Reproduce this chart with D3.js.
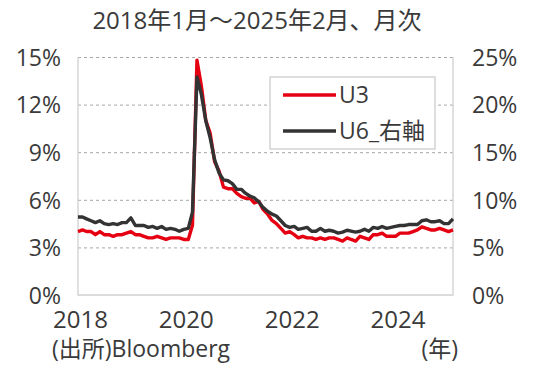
<!DOCTYPE html>
<html>
<head>
<meta charset="utf-8">
<script src="https://cdn.jsdelivr.net/npm/d3@7"></script>
<style>
	body { margin: 0; background: #fff; }
	svg text { font-family: "Open Sans", "Noto Sans CJK JP", sans-serif; fill: #3a3a3a; }
	.grid line { stroke: #a6a6a6; stroke-dasharray: 3, 3; stroke-width: 1; }
	.frame { stroke: #d0d0d0; stroke-width: 1.3; fill: none; }
</style>
</head>
<body>
<div class="box"></div>
<script>
var startMonth = '2018-01';

// U3 (%), monthly from Jan 2018
var u3 = [
	4.0, 4.1, 4.0, 4.0, 3.8, 4.0, 3.8, 3.8, 3.7, 3.8, 3.8, 3.9,
	4.0, 3.8, 3.8, 3.7, 3.6, 3.6, 3.7, 3.6, 3.5, 3.6, 3.6, 3.6,
	3.5, 3.5, 4.4, 14.8, 13.2, 11.0, 10.2, 8.4, 7.8, 6.8, 6.7, 6.7,
	6.4, 6.2, 6.1, 6.1, 5.8, 5.9, 5.4, 5.1, 4.7, 4.5, 4.2, 3.9,
	4.0, 3.8, 3.6, 3.7, 3.6, 3.6, 3.5, 3.6, 3.5, 3.6, 3.6, 3.5,
	3.4, 3.6, 3.5, 3.4, 3.7, 3.6, 3.5, 3.8, 3.8, 3.9, 3.7, 3.7,
	3.7, 3.9, 3.9, 3.9, 4.0, 4.1, 4.3, 4.2, 4.1, 4.1, 4.2, 4.1,
	4.0, 4.1
];

// U6 (%), right axis
var u6 = [
	8.2, 8.2, 8.0, 7.8, 7.6, 7.8, 7.5, 7.4, 7.5, 7.4, 7.6, 7.6,
	8.1, 7.3, 7.3, 7.3, 7.1, 7.2, 7.0, 7.2, 6.9, 7.0, 6.9, 6.7,
	6.9, 7.0, 8.7, 22.9, 21.1, 18.3, 16.5, 14.2, 12.8, 12.1, 12.0, 11.7,
	11.1, 11.1, 10.7, 10.4, 10.2, 9.8, 9.2, 8.8, 8.5, 8.3, 7.8, 7.3,
	7.1, 7.2, 6.9, 7.0, 7.1, 6.7, 6.7, 7.0, 6.7, 6.8, 6.7, 6.5,
	6.6, 6.8, 6.7, 6.6, 6.7, 6.9, 6.7, 7.1, 7.0, 7.2, 7.0, 7.1,
	7.2, 7.3, 7.3, 7.4, 7.4, 7.4, 7.8, 7.9, 7.7, 7.7, 7.8, 7.5,
	7.5, 8.0
];

var leftTicks = [0, 3, 6, 9, 12, 15];
var rightTicks = [0, 5, 10, 15, 20, 25];
var yearTicks = ['2018', '2020', '2022', '2024'];
var seriesNames = ['U3', 'U6_右軸'];
var seriesColors = ['#e50012', '#333333'];

var title = '2018年1月～2025年2月、月次';
var source = '(出所)Bloomberg';
var unit = '(年)';

function drawChart()
{
	var width = 540, height = 373;
	var margin = {left: 78, right: 87, top: 57, bottom: 78};

	var svg = d3.select('.box')
		.append('svg')
		.attr('width', width)
		.attr('height', height);

	var parse = d3.timeParse('%Y-%m');
	var t0 = parse(startMonth);
	var months = u3.map(function(d, i) { return d3.timeMonth.offset(t0, i); });

	var x = d3.scaleTime()
		.domain([months[0], months[months.length - 1]])
		.range([margin.left, width - margin.right]);

	var yL = d3.scaleLinear()
		.domain([0, 15])
		.range([height - margin.bottom, margin.top]);

	var yR = d3.scaleLinear()
		.domain([0, 25])
		.range([height - margin.bottom, margin.top]);

	// dashed gridlines
	svg.append('g')
		.attr('class', 'grid')
		.attr('transform', 'translate(' + margin.left + ',0)')
		.call(d3.axisLeft(yL)
			.tickValues(leftTicks.slice(1))
			.tickSize(-(width - margin.left - margin.right))
			.tickFormat(''))
		.call(function(g) { g.select('.domain').remove(); });

	// frame: left, right, bottom
	var x0 = margin.left, x1 = width - margin.right;
	var yb = height - margin.bottom, yt = margin.top;
	svg.append('path')
		.attr('class', 'frame')
		.attr('d', 'M' + x0 + ',' + yt + 'V' + yb + 'H' + x1 + 'V' + yt);

	// left axis
	svg.append('g')
		.attr('transform', 'translate(' + (margin.left - 17) + ',0)')
		.call(d3.axisLeft(yL)
			.tickValues(leftTicks)
			.tickSize(0)
			.tickFormat(function(d) { return d + '%'; }))
		.call(function(g) {
			g.select('.domain').remove();
			g.selectAll('text')
				.attr('x', 0)
				.attr('dy', '0.36em')
				.style('font-size', '23px');
		});

	// right axis
	svg.append('g')
		.attr('transform', 'translate(' + (width - margin.right + 19) + ',0)')
		.call(d3.axisRight(yR)
			.tickValues(rightTicks)
			.tickSize(0)
			.tickFormat(function(d) { return d + '%'; }))
		.call(function(g) {
			g.select('.domain').remove();
			g.selectAll('text')
				.attr('x', 0)
				.attr('dy', '0.36em')
				.style('font-size', '23px');
		});

	// x axis year labels
	svg.append('g')
		.attr('transform', 'translate(0,' + (height - margin.bottom) + ')')
		.call(d3.axisBottom(x)
			.tickValues(yearTicks.map(function(y) { return parse(y + '-01'); }))
			.tickSize(0)
			.tickFormat(d3.timeFormat('%Y')))
		.call(function(g) {
			g.select('.domain').remove();
			g.selectAll('text')
				.attr('y', 33)
				.attr('dy', 0)
				.attr('dx', 2)
				.style('font-size', '24px');
		});

	// lines
	var lineL = d3.line()
		.x(function(d, i) { return x(months[i]); })
		.y(function(d) { return yL(d); });

	var lineR = d3.line()
		.x(function(d, i) { return x(months[i]); })
		.y(function(d) { return yR(d); });

	svg.append('path')
		.datum(u3)
		.attr('d', lineL)
		.attr('fill', 'none')
		.attr('stroke', seriesColors[0])
		.attr('stroke-width', 3.4)
		.attr('stroke-linejoin', 'round');

	svg.append('path')
		.datum(u6)
		.attr('d', lineR)
		.attr('fill', 'none')
		.attr('stroke', seriesColors[1])
		.attr('stroke-width', 3.4)
		.attr('stroke-linejoin', 'round');

	// legend
	var legend = svg.append('g')
		.attr('transform', 'translate(270,77)');

	legend.append('rect')
		.attr('width', 165)
		.attr('height', 72)
		.style('fill', '#fff')
		.style('stroke', '#c8c8c8')
		.style('stroke-width', 1.2);

	seriesNames.forEach(function(name, i) {
		var ly = 18 + i * 36;
		legend.append('line')
			.attr('x1', 13)
			.attr('x2', 66)
			.attr('y1', ly)
			.attr('y2', ly)
			.attr('stroke', seriesColors[i])
			.attr('stroke-width', 3.4);
		legend.append('text')
			.attr('x', 69)
			.attr('y', ly)
			.attr('dy', '0.36em')
			.style('font-size', '23px')
			.text(name);
	});

	// title and notes
	svg.append('text')
		.attr('x', 257)
		.attr('y', 29)
		.attr('text-anchor', 'middle')
		.style('font-size', '24px')
		.text(title);

	svg.append('text')
		.attr('x', 52)
		.attr('y', 357)
		.style('font-size', '23px')
		.text(source);

	svg.append('text')
		.attr('x', 458)
		.attr('y', 357)
		.attr('text-anchor', 'end')
		.style('font-size', '23px')
		.text(unit);
}

drawChart();
</script>
</body>
</html>
